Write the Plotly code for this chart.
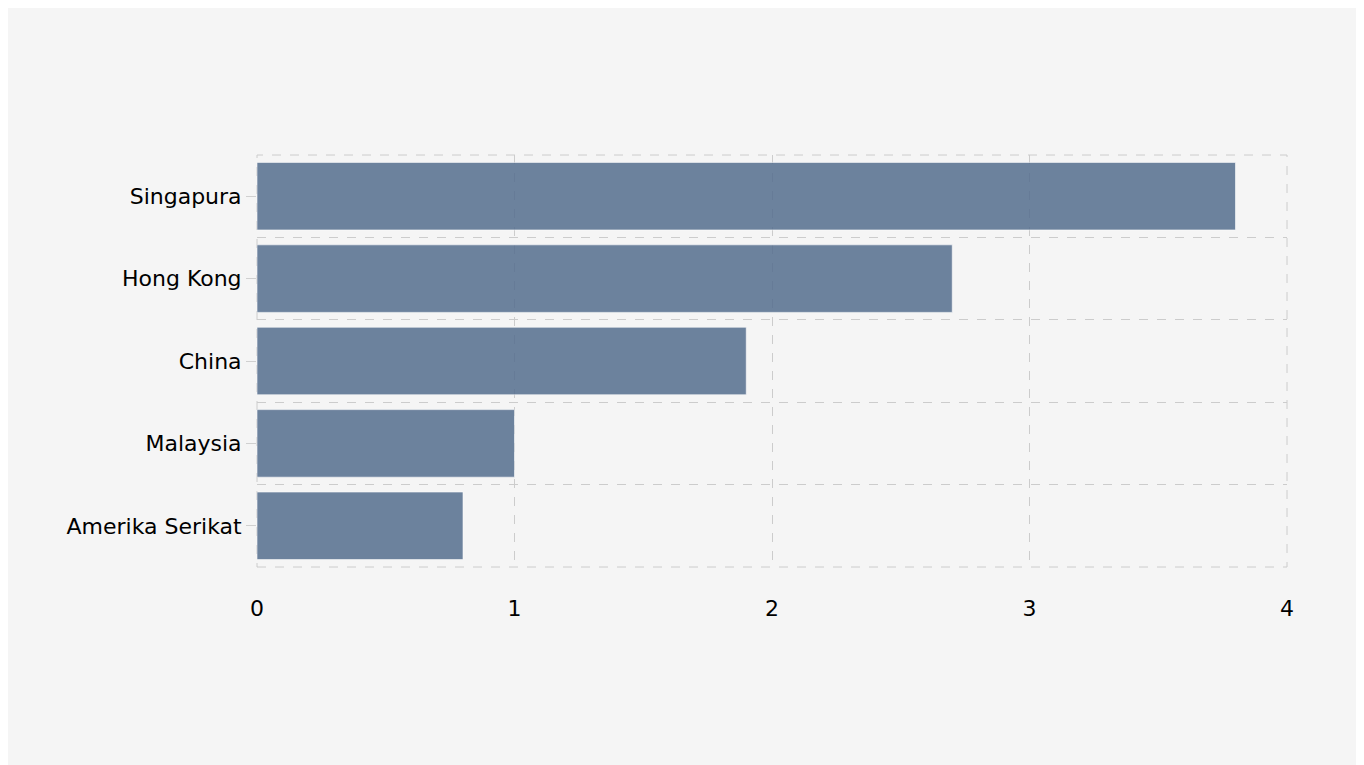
import plotly.graph_objects as go

countries = ["Amerika Serikat", "Malaysia", "China", "Hong Kong", "Singapura"]
values = [0.8, 1.0, 1.9, 2.7, 3.8]

fig = go.Figure()
fig.add_trace(go.Bar(x=values, y=countries, orientation="h",
                     marker=dict(color="rgb(85,110,142)", opacity=0.85,
                                 line=dict(color="rgba(255,255,255,0.6)", width=1))))
fig.add_trace(go.Scatter(x=[None]*5, y=countries, yaxis="y2", mode="markers",
                         showlegend=False, hoverinfo="skip"))
grid = dict(showgrid=True, gridcolor="#cccccc", griddash="dash", gridwidth=1)
fig.update_layout(
    width=1364, height=765, paper_bgcolor="#f5f5f5", plot_bgcolor="#f5f5f5",
    margin=dict(l=249, r=85, t=147, b=206), showlegend=False,
    font=dict(family="DejaVu Sans", size=22, color="black"),
    bargap=0.18,
    xaxis=dict(range=[0, 4], dtick=1, zeroline=False, ticks="outside", ticklen=22,
               tickcolor="rgba(0,0,0,0)", **grid),
    yaxis=dict(categoryorder="array", categoryarray=countries, showgrid=False,
               ticks="outside", ticklen=10, tickcolor="#d0d0d0", zeroline=False),
    yaxis2=dict(overlaying="y", matches="y", categoryorder="array", categoryarray=countries,
                tickson="boundaries", ticks="", showticklabels=False, **grid),
    shapes=[dict(type="rect", xref="paper", yref="paper", x0=0, x1=1, y0=0, y1=1,
                 line=dict(color="#cccccc", width=1, dash="dash"), layer="below")],
)
fig.write_html("out.html")
